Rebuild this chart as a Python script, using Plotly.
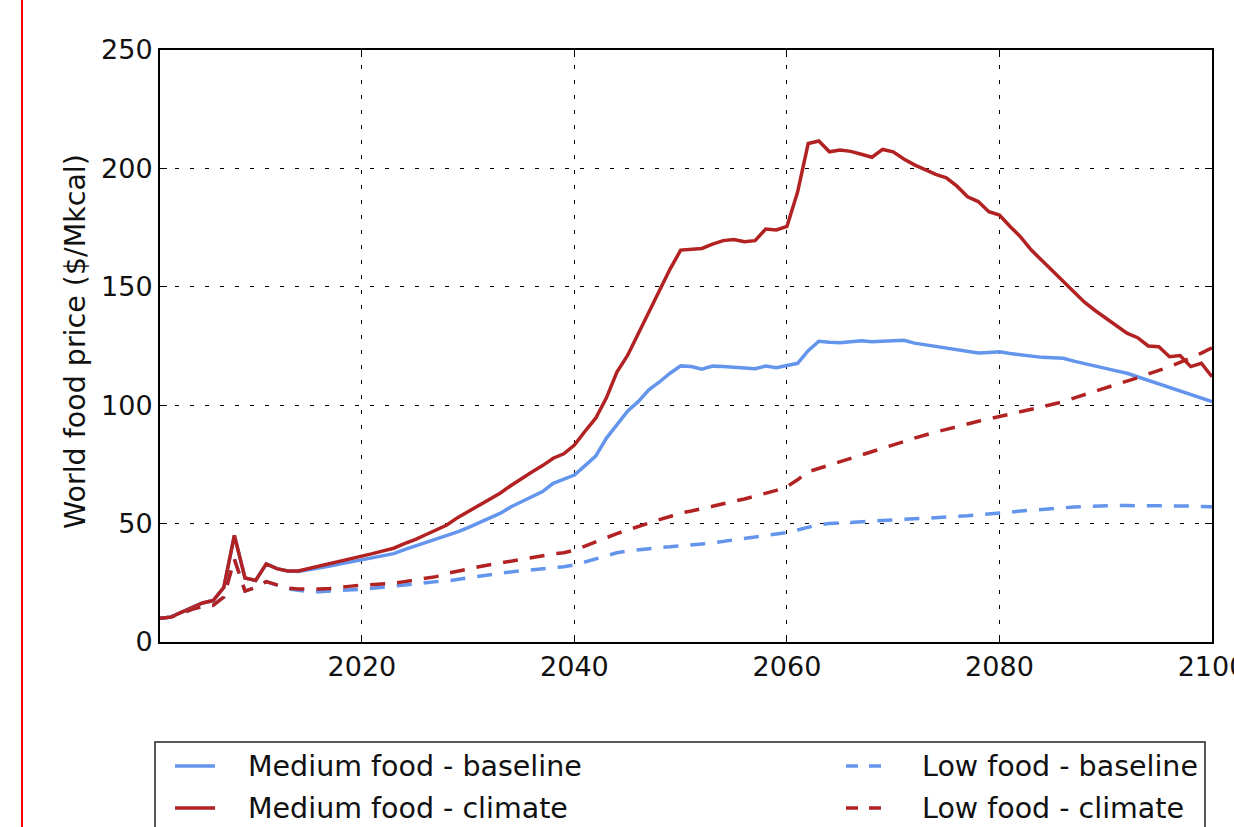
import plotly.graph_objects as go

years = list(range(2001, 2101))

medium_baseline = [
    10.0, 10.5, 12.5, 14.5, 16.5, 17.5, 23.0, 45.0, 27.0, 26.0,
    33.0, 31.0, 30.0, 29.8, 30.5, 31.3, 32.1, 33.0, 33.8, 34.6,
    35.5, 36.3, 37.3, 39.0, 40.5, 41.8, 43.2, 45.0, 46.5, 48.3,
    50.3, 52.2, 54.3, 57.0, 59.2, 61.3, 63.5, 67.0, 68.8, 70.5,
    74.5, 78.5, 86.0, 91.6, 97.5, 101.5, 106.5, 109.8, 113.5, 116.6,
    116.3, 115.2, 116.5, 116.3, 116.0, 115.8, 115.4, 116.5, 115.8, 116.8,
    117.7, 123.0, 127.0, 126.6, 126.4, 126.8, 127.2, 126.8, 127.0, 127.4,
    127.4, 126.2, 125.5, 124.8, 124.0, 123.2, 122.6, 122.0, 122.3, 122.6,
    121.8, 121.2, 120.7, 120.2, 120.0, 119.8, 118.6, 117.5, 116.4, 115.6,
    114.5, 113.5, 112.0, 110.5, 109.0, 107.6, 106.0, 104.4, 102.8, 101.5,
]

medium_climate = [
    10.0, 10.5, 12.5, 14.5, 16.5, 17.5, 23.0, 45.0, 27.0, 26.0,
    33.0, 31.0, 30.0, 30.0, 31.0, 32.2, 33.2, 34.2, 35.2, 36.3,
    37.3, 38.5, 39.6, 41.5, 43.2, 45.3, 47.5, 49.4, 52.5, 55.0,
    57.5, 60.0, 62.8, 66.0, 69.0, 71.8, 74.5, 77.6, 79.5, 83.2,
    89.0, 94.5, 103.0, 114.0, 121.0, 130.0, 139.5, 148.5, 157.5, 165.5,
    166.0, 166.2, 168.0, 169.5, 170.0, 169.0, 169.5, 174.4, 174.0, 175.5,
    190.0, 210.5, 211.6, 207.0, 207.8, 207.2, 206.0, 204.7, 208.0, 207.0,
    204.0, 201.5, 199.5, 197.5, 196.0, 192.5, 188.0, 186.0, 181.7, 180.3,
    175.5, 171.0, 165.5, 161.0, 156.5, 152.5, 148.0, 143.5, 140.0, 136.7,
    133.5, 130.4, 128.5, 125.0, 124.7, 120.5, 121.0, 116.3, 117.7, 112.0,
]

low_baseline = [
    10.0, 10.5, 12.0, 13.8, 15.0, 15.5, 19.0, 35.0, 21.5, 23.0,
    25.5, 24.0, 22.5, 21.8, 21.3, 21.2, 21.4, 21.7, 22.0, 22.3,
    22.7, 23.2, 23.7, 24.2, 24.7, 25.1, 25.5, 25.8, 26.5, 27.2,
    27.8, 28.4, 29.0, 29.6, 30.0, 30.6, 31.0, 31.4, 31.8, 32.5,
    33.8, 35.2, 36.6, 37.7, 38.4, 39.0, 39.5, 39.9, 40.2, 40.5,
    41.0, 41.4, 41.9, 42.5, 43.3, 43.9, 44.4, 45.0, 45.5, 46.2,
    47.3, 48.6, 49.6, 50.0, 50.3, 50.6, 50.9, 51.1, 51.4, 51.6,
    51.8, 52.0, 52.2, 52.4, 52.7, 53.0, 53.3, 53.7, 54.0, 54.4,
    54.8, 55.3, 55.7, 56.0, 56.4, 56.7, 57.0, 57.2, 57.4, 57.6,
    57.6, 57.6, 57.6, 57.6, 57.6, 57.6, 57.5, 57.4, 57.2, 57.1,
]

low_climate = [
    10.0, 10.5, 12.0, 13.8, 15.0, 15.5, 19.0, 35.0, 21.5, 23.0,
    25.5, 24.0, 22.8, 22.4, 22.3, 22.4, 22.6, 23.2, 23.6, 24.0,
    24.3, 24.5, 24.8, 25.5, 26.2, 26.8, 27.6, 29.0, 29.8, 30.8,
    31.8, 32.6, 33.4, 34.3, 35.0, 35.8, 36.5, 37.2, 37.7, 38.8,
    40.5, 42.3, 44.0, 45.8, 47.3, 48.8, 50.4, 51.7, 53.0, 54.5,
    55.3, 56.2, 57.3, 58.4, 59.3, 60.4, 61.6, 62.7, 64.0, 65.6,
    68.5, 71.9, 73.3, 74.8, 76.2, 77.5, 78.7, 80.2, 81.7, 83.2,
    84.6, 86.1, 87.5, 88.7, 89.8, 91.0, 92.0, 93.2, 94.2, 95.3,
    96.3, 97.4, 98.3, 99.3, 100.4, 101.5, 103.0, 104.5, 106.0, 107.3,
    108.8, 110.2, 111.6, 113.0, 114.7, 116.3, 118.0, 120.0, 122.0, 124.2,
]

x_ticks = [2020, 2040, 2060, 2080, 2100]
y_ticks = [0, 50, 100, 150, 200, 250]

series_names = ["Medium food - baseline", "Medium food - climate",
                "Low food - baseline", "Low food - climate"]

BLUE = "#6495ED"
RED = "#B22222"
FONT = "DejaVu Sans"
TEXT = "#111111"

W, H = 1234, 827
L, R, T, B = 160, 22, 50, 185
PW, PH = W - L - R, H - T - B


def px_x(px):
    return (px - L) / PW


def px_y(py):
    return (H - B - py) / PH


fig = go.Figure()
styles = [(medium_baseline, BLUE, "solid"), (medium_climate, RED, "solid"),
          (low_baseline, BLUE, "15px,12px"), (low_climate, RED, "15px,12px")]
for name, (vals, col, dash) in zip(series_names, styles):
    fig.add_trace(go.Scatter(x=years, y=vals, mode="lines", name=name,
                             line=dict(color=col, width=3.5, dash=dash),
                             showlegend=False))

axis_common = dict(
    showgrid=True, gridcolor="black", gridwidth=1, griddash="4px,11px",
    showline=True, linecolor="black", linewidth=2, mirror="ticks",
    ticks="inside", ticklen=7, tickwidth=1, tickcolor="black",
    zeroline=False, ticklabeloverflow="allow",
    tickfont=dict(family=FONT, size=27, color=TEXT),
)

fig.update_layout(
    width=W, height=H, template="none",
    margin=dict(l=L, r=R, t=T, b=B, autoexpand=False),
    paper_bgcolor="white", plot_bgcolor="white",
    xaxis=dict(range=[2001, 2100], tickvals=x_ticks,
               ticktext=[str(v) for v in x_ticks], **axis_common),
    yaxis=dict(range=[0, 250], tickvals=y_ticks,
               ticktext=[str(v) for v in y_ticks], **axis_common),
    showlegend=False,
)

# y-axis title
fig.add_annotation(text="World food price ($/Mkcal)", textangle=-90,
                   xref="paper", yref="paper", x=px_x(75), y=px_y(342),
                   xanchor="center", yanchor="middle", showarrow=False,
                   font=dict(family=FONT, size=28.5, color=TEXT))

# page border line on the left
fig.add_shape(type="line", xref="paper", yref="paper",
              x0=px_x(22), x1=px_x(22), y0=px_y(H + 10), y1=px_y(-10),
              line=dict(color="#FF0000", width=2))

# legend box
fig.add_shape(type="rect", xref="paper", yref="paper",
              x0=px_x(155), x1=px_x(1205), y0=px_y(742), y1=px_y(880),
              line=dict(color="#222222", width=1.5), fillcolor="white", layer="above")

legend_items = [
    (series_names[0], BLUE, False, 175, 246, 766),
    (series_names[1], RED, False, 175, 246, 808),
    (series_names[2], BLUE, True, 846, 920, 766),
    (series_names[3], RED, True, 846, 920, 808),
]
for name, col, dashed, lx, tx, ly in legend_items:
    if dashed:
        segs = [(lx, lx + 12), (lx + 23, lx + 35)]
    else:
        segs = [(lx, lx + 40)]
    for a, b in segs:
        fig.add_shape(type="line", xref="paper", yref="paper",
                      x0=px_x(a), x1=px_x(b), y0=px_y(ly), y1=px_y(ly),
                      line=dict(color=col, width=3.5), layer="above")
    fig.add_annotation(text=name, xref="paper", yref="paper",
                       x=px_x(tx), y=px_y(ly), xanchor="left", yanchor="middle",
                       showarrow=False,
                       font=dict(family=FONT, size=28.5, color=TEXT))

fig.write_html("out.html")
